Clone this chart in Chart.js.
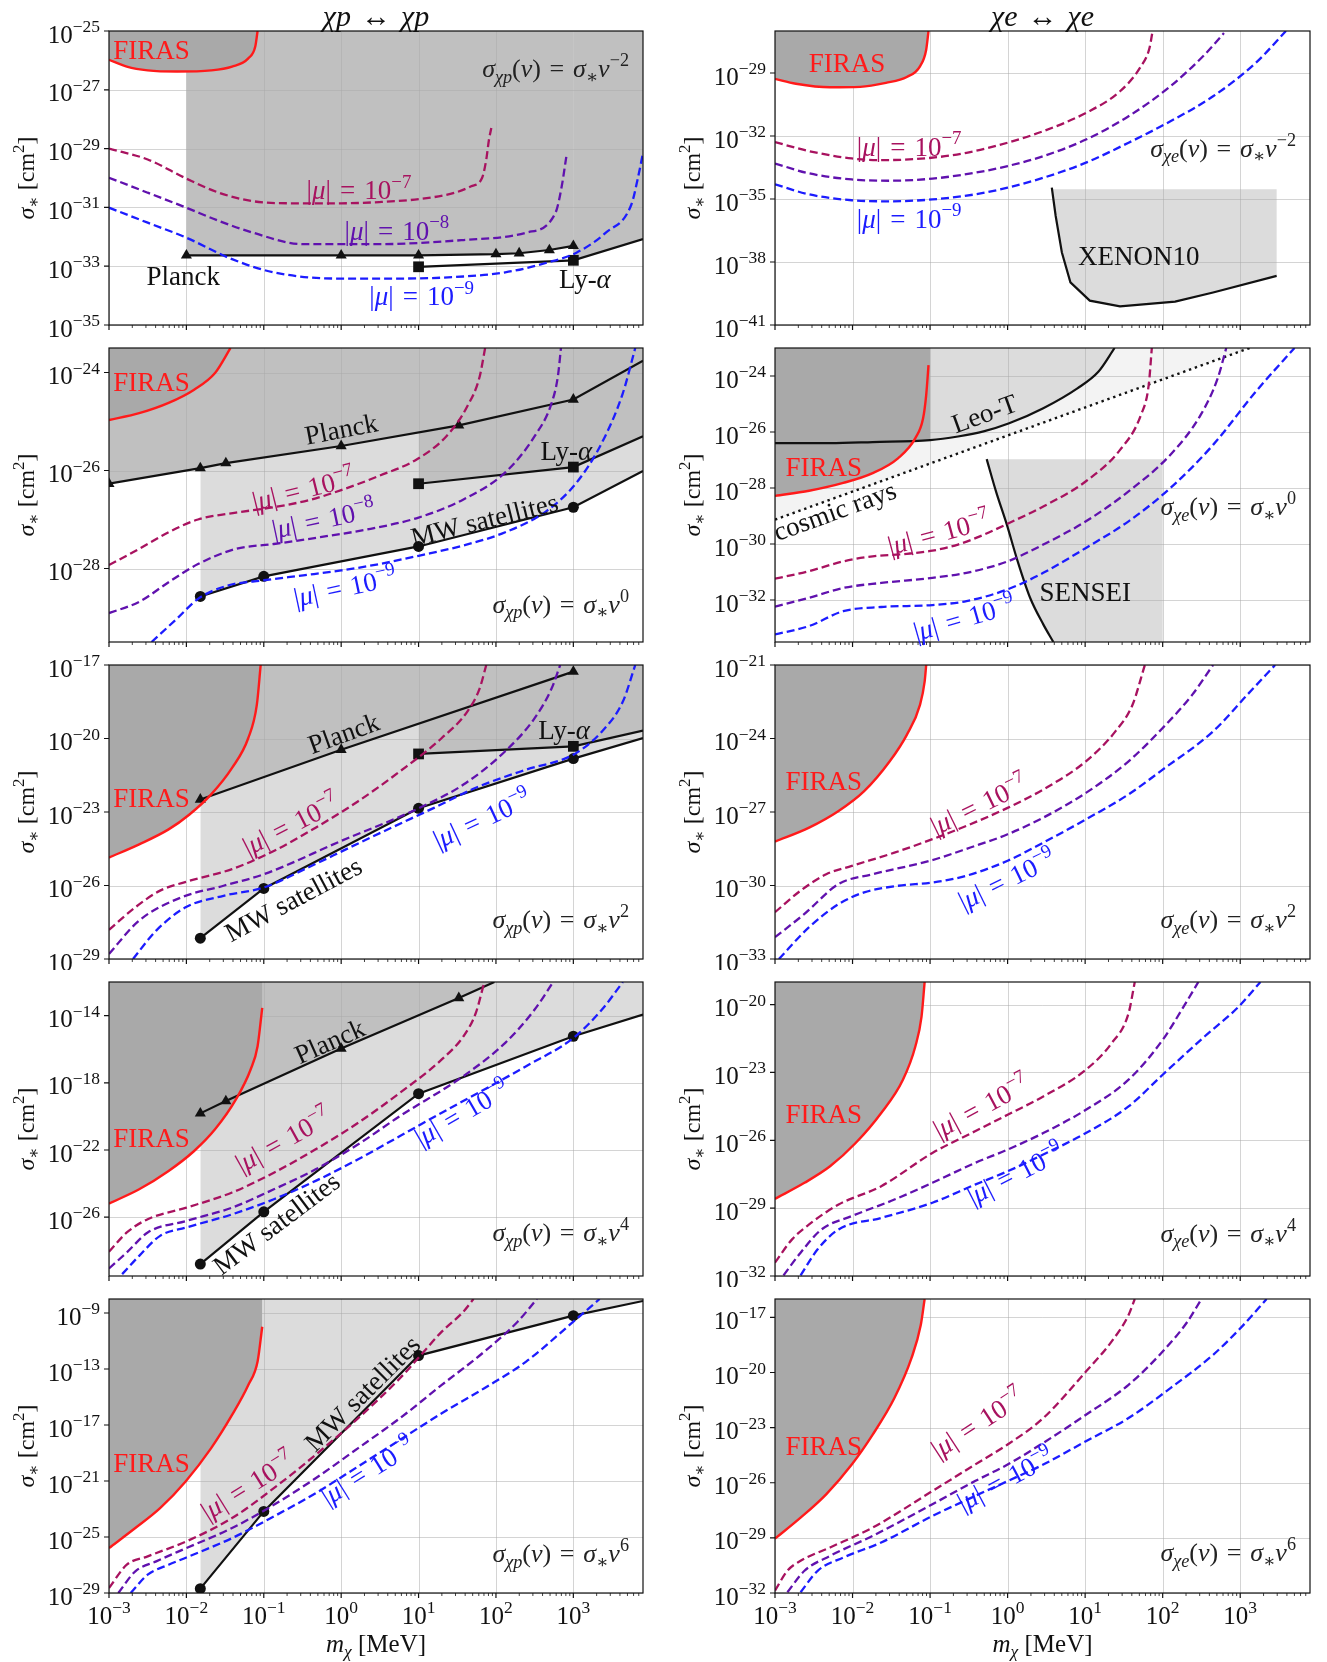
<!DOCTYPE html>
<html lang="en">
<head>
<meta charset="UTF-8">
<title>Millicharged DM bounds</title>
<style>
  body { margin: 0; background: #fff; }
  #fig { position: relative; width: 1327px; height: 1662px; }
  #fig canvas { position: absolute; }
</style>
</head>
<body>
<div id="fig"></div>
<script src="https://cdn.jsdelivr.net/npm/chart.js"></script>
<script>
// every pair below is [log10(m_chi / MeV), log10(sigma_* / cm^2)]
const xTicks = [-3, -2, -1, 0, 1, 2, 3];
const xMax = 3.9;

// ---- row 1: v^-2 ----
const p1Range = [-35, -25];
const p1Ticks = [-25, -27, -29, -31, -33, -35];
const p1Firas = [[-3, -25.98], [-2.77, -26.21], [-2.5, -26.34], [-2.12, -26.38], [-1.68, -26.34], [-1.41, -26.21], [-1.2, -25.93], [-1.11, -25.53], [-1.08, -25.0]];
const p1Planck = [[-2, -32.63], [0, -32.63], [1, -32.63], [2, -32.59], [2.3, -32.56], [2.69, -32.45], [3, -32.31]];
const p1Lya = [[1, -33.02], [3, -32.8]];
const p1LyaTail = [[3.9, -32.08]];
const p1Mu7 = [[-3, -29.0], [-2.5, -29.37], [-2, -30.02], [-1.58, -30.5], [-1.14, -30.79], [-0.6, -30.86], [0, -30.86], [0.49, -30.82], [1.03, -30.71], [1.47, -30.5], [1.68, -30.28], [1.82, -30.0], [1.875, -29.37], [1.91, -28.69], [1.94, -28.3]];
const p1Mu8 = [[-3, -29.99], [-2.5, -30.5], [-2, -31.01], [-1.58, -31.46], [-1.14, -31.86], [-0.49, -32.25], [0.49, -32.25], [1.58, -32.11], [2.39, -31.86], [2.77, -31.18], [2.85, -30.28], [2.91, -29.26]];
const p1Mu9 = [[-3, -31.01], [-2.5, -31.52], [-2, -32.03], [-1.41, -32.76], [-0.87, -33.21], [-0.05, -33.42], [0.76, -33.42], [1.58, -33.35], [2.12, -33.21], [2.66, -32.88], [3.04, -32.54], [3.42, -31.86], [3.75, -30.9], [3.83, -30.05], [3.9, -29.15]];

const p2Range = [-41, -27];
const p2Ticks = [-29, -32, -35, -38, -41];
const p2Firas = [[-3, -29.28], [-2.73, -29.51], [-2.29, -29.68], [-1.9, -29.66], [-1.57, -29.47], [-1.3, -29.19], [-1.13, -28.68], [-1.05, -27.89], [-1.02, -27.0]];
const p2Mu7 = [[-3, -32.29], [-2.56, -32.72], [-2.01, -33.07], [-1.63, -33.15], [-1.02, -33.05], [-0.53, -32.8], [0, -32.32], [0.46, -31.77], [1.01, -30.9], [1.45, -29.87], [1.72, -28.68], [1.83, -27.81], [1.87, -27.0]];
const p2Mu8 = [[-3, -33.31], [-2.56, -33.78], [-2.01, -34.07], [-1.52, -34.13], [-0.97, -34.03], [-0.42, -33.75], [0, -33.43], [0.46, -32.96], [1.01, -32.17], [1.56, -31.06], [2.1, -29.63], [2.54, -28.13], [2.79, -27.1]];
const p2Mu9 = [[-3, -34.3], [-2.56, -34.78], [-2.01, -35.06], [-1.52, -35.11], [-0.97, -35.02], [-0.42, -34.78], [0, -34.46], [0.46, -33.99], [1.01, -33.27], [1.56, -32.32], [2.1, -31.3], [2.65, -30.11], [3.2, -28.52], [3.59, -27.0]];
const p2Xenon = [[0.57, -34.46], [0.62, -35.81], [0.7, -37.55], [0.81, -38.97], [1.06, -39.84], [1.45, -40.11], [2.16, -39.89], [2.65, -39.45], [3.47, -38.66]];
const p2XenonEdge = [[3.47, -34.54], [0.57, -34.54]];

// ---- row 2: v^0 ----
const p3Range = [-29.5, -23.5];
const p3Ticks = [-24, -26, -28];
const p3Firas = [[-3, -24.97], [-2.61, -24.83], [-2.23, -24.62], [-1.9, -24.35], [-1.63, -24.01], [-1.43, -23.5]];
const p3Planck = [[-3, -26.27], [-1.82, -25.95], [-1.49, -25.85], [0, -25.5], [1.52, -25.08], [3, -24.55]];
const p3PlanckTail = [[3.9, -23.76]];
const p3Lya = [[1, -26.27], [3, -25.93]];
const p3LyaTail = [[3.9, -25.3]];
const p3Mw = [[-1.82, -28.57], [-1, -28.16], [1, -27.55], [3, -26.75]];
const p3MwTail = [[3.9, -26.01]];
const p3Mu7 = [[-3, -27.93], [-2.61, -27.6], [-2.23, -27.26], [-1.85, -27.0], [-1.36, -26.86], [-0.87, -26.75], [-0.38, -26.59], [0, -26.4], [0.49, -26.11], [0.98, -25.77], [1.36, -25.3], [1.63, -24.69], [1.79, -24.08], [1.86, -23.5]];
const p3Mu8 = [[-3, -28.91], [-2.61, -28.68], [-2.23, -28.28], [-1.85, -27.91], [-1.36, -27.6], [-0.87, -27.5], [-0.27, -27.36], [0.38, -27.19], [1, -26.96], [1.58, -26.59], [2.12, -26.04], [2.5, -25.3], [2.72, -24.62], [2.8, -24.08], [2.84, -23.5]];
const p3Mu9 = [[-2.45, -29.5], [-2.12, -29.02], [-1.85, -28.62], [-1.47, -28.35], [-1, -28.24], [-0.49, -28.14], [0, -28.04], [0.49, -27.91], [1, -27.74], [1.58, -27.53], [2.12, -27.26], [2.66, -26.82], [3.04, -26.25], [3.37, -25.43], [3.64, -24.42], [3.8, -23.5]];

const p4Range = [-33.5, -23];
const p4Ticks = [-24, -26, -28, -30, -32];
const p4Firas = [[-3, -28.28], [-2.56, -28.1], [-2.12, -27.82], [-1.74, -27.47], [-1.41, -26.93], [-1.19, -26.22], [-1.09, -25.51], [-1.05, -24.68], [-1.02, -23.61]];
const p4LeoT = [[-3, -26.4], [-2.29, -26.4], [-1.74, -26.36], [-1, -26.29], [-0.64, -26.16], [-0.31, -25.98], [0.02, -25.69], [0.46, -25.15], [0.9, -24.44], [1.17, -23.85], [1.38, -23.0]];
const p4Cosmic = [[-3, -29.13], [3.12, -23.0]];
const p4Sensei = [[-0.27, -26.97], [-0.15, -28.12], [-0.01, -29.31], [0.13, -30.62], [0.29, -31.92], [0.46, -32.87], [0.59, -33.5]];
const p4SenseiEdge = [[2.0, -33.5], [2.0, -26.97]];
const p4Mu7 = [[-3, -31.24], [-2.56, -30.97], [-2.12, -30.62], [-1.74, -30.44], [-1.3, -30.35], [-0.97, -30.24], [-0.64, -30.02], [-0.31, -29.67], [0.02, -29.25], [0.46, -28.66], [1.01, -27.76], [1.45, -26.64], [1.72, -25.39], [1.82, -24.32], [1.86, -23.0]];
const p4Mu8 = [[-3, -32.24], [-2.56, -31.92], [-2.12, -31.57], [-1.63, -31.39], [-0.97, -31.21], [-0.53, -31.03], [0, -30.62], [0.46, -30.02], [1.01, -29.19], [1.56, -28.12], [2.1, -26.81], [2.49, -25.39], [2.71, -24.08], [2.82, -23.0]];
const p4Mu9 = [[-3, -33.23], [-2.56, -32.93], [-2.12, -32.4], [-1.63, -32.25], [-0.97, -32.18], [-0.53, -32.04], [0, -31.62], [0.46, -31.03], [1.01, -30.14], [1.56, -29.19], [2.1, -28.0], [2.65, -26.46], [3.2, -24.56], [3.7, -23.0]];

// ---- row 3: v^2 ----
const p5Range = [-29, -17];
const p5Ticks = [-17, -20, -23, -26, -29];
const p5Firas = [[-3, -24.86], [-2.61, -24.32], [-2.23, -23.71], [-1.96, -23.1], [-1.68, -22.28], [-1.41, -21.2], [-1.2, -19.98], [-1.09, -18.63], [-1.04, -17.0]];
const p5Planck = [[-1.82, -22.49], [0, -20.46], [3, -17.27]];
const p5Lya = [[1, -20.63], [3, -20.32]];
const p5LyaTail = [[3.9, -19.68]];
const p5Mw = [[-1.82, -28.15], [-1, -26.12], [1, -22.85], [3, -20.82]];
const p5MwTail = [[3.9, -19.98]];
const p5Mu7 = [[-3, -27.81], [-2.66, -26.89], [-2.34, -26.21], [-1.96, -25.81], [-1.41, -25.33], [-0.87, -24.59], [-0.33, -23.64], [0.22, -22.56], [0.76, -21.34], [1.3, -19.98], [1.63, -18.9], [1.79, -17.95], [1.875, -17.0]];
const p5Mu8 = [[-3, -28.79], [-2.61, -27.43], [-2.07, -26.49], [-1.52, -26.01], [-1, -25.54], [0, -24.18], [1, -22.85], [1.58, -21.88], [2.12, -20.52], [2.5, -19.17], [2.72, -17.95], [2.83, -17.0]];
const p5Mu9 = [[-2.69, -29.0], [-2.39, -27.84], [-2.01, -26.89], [-1.52, -26.42], [-1, -26.08], [-0.43, -25.27], [0.11, -24.45], [0.65, -23.64], [1.2, -22.83], [1.74, -22.01], [2.39, -21.27], [3, -20.66], [3.37, -19.71], [3.64, -18.49], [3.8, -17.0]];

const p6Range = [-33, -21];
const p6Ticks = [-21, -24, -27, -30, -33];
const p6Firas = [[-3, -28.21], [-2.56, -27.64], [-2.18, -26.96], [-1.85, -26.15], [-1.52, -24.93], [-1.3, -23.85], [-1.13, -22.63], [-1.07, -21.68], [-1.05, -21.0]];
const p6Mu7 = [[-3, -31.09], [-2.67, -30.21], [-2.34, -29.54], [-2.01, -29.2], [-1.46, -28.66], [-0.97, -28.11], [-0.48, -27.5], [0, -26.83], [0.46, -26.08], [1.01, -24.93], [1.39, -23.71], [1.61, -22.63], [1.77, -21.0]];
const p6Mu8 = [[-3, -32.11], [-2.62, -31.16], [-2.18, -29.94], [-1.74, -29.54], [-1, -28.99], [-0.48, -28.45], [0, -27.91], [0.46, -27.23], [1.01, -26.22], [1.56, -24.93], [2, -23.57], [2.38, -22.22], [2.65, -21.0]];
const p6Mu9 = [[-2.95, -33.0], [-2.56, -31.7], [-2.18, -30.76], [-1.85, -30.28], [-1.41, -30.01], [-0.97, -29.88], [-0.53, -29.6], [0, -28.99], [0.46, -28.25], [1.01, -27.3], [1.56, -26.28], [2, -25.27], [2.65, -23.71], [3.09, -22.22], [3.45, -21.0]];

// ---- row 4: v^4 ----
const p7Range = [-29.5, -12];
const p7Ticks = [-14, -18, -22, -26];
const p7Firas = [[-3, -25.19], [-2.61, -24.34], [-2.23, -23.25], [-1.9, -22.06], [-1.63, -20.77], [-1.36, -18.99], [-1.17, -17.21], [-1.08, -15.82], [-1.02, -13.54]];
const p7Planck = [[-1.82, -19.82], [-1.49, -19.09], [0, -15.96], [1.52, -12.95]];
const p7PlanckTail = [[1.98, -12.0]];
const p7Mw = [[-1.82, -28.79], [-1, -25.68], [1, -18.65], [3, -15.23]];
const p7MwTail = [[3.9, -13.94]];
const p7Mu7 = [[-3, -28.06], [-2.77, -26.91], [-2.5, -26.12], [-2, -25.43], [-1.41, -24.53], [-0.87, -23.35], [-0.33, -21.96], [0.22, -20.38], [0.76, -18.59], [1.3, -16.61], [1.58, -15.23], [1.74, -13.84], [1.85, -12.0]];
const p7Mu8 = [[-3, -29.05], [-2.77, -28.1], [-2.5, -26.91], [-2, -26.22], [-1.41, -25.43], [-0.87, -24.34], [-0.33, -23.15], [0.22, -21.66], [0.76, -19.98], [1.58, -17.6], [2.12, -15.62], [2.5, -13.64], [2.74, -12.0]];
const p7Mu9 = [[-2.83, -29.39], [-2.61, -28.3], [-2.34, -27.11], [-2, -26.61], [-1.41, -25.83], [-0.87, -24.93], [-0.33, -23.84], [0.22, -22.55], [0.76, -21.17], [1.3, -19.78], [1.85, -18.4], [2.39, -17.01], [3, -15.33], [3.37, -13.64], [3.64, -12.0]];

const p8Range = [-32, -19];
const p8Ticks = [-20, -23, -26, -29, -32];
const p8Firas = [[-3, -28.59], [-2.62, -27.88], [-2.29, -27.15], [-1.96, -26.12], [-1.63, -24.79], [-1.35, -23.32], [-1.19, -21.85], [-1.11, -20.53], [-1.07, -19.0]];
const p8Mu7 = [[-3, -31.41], [-2.78, -30.38], [-2.56, -29.72], [-2.18, -28.84], [-1.63, -28.03], [-0.97, -26.56], [-0.42, -25.6], [0, -24.87], [0.46, -24.06], [1.01, -22.88], [1.34, -21.71], [1.56, -20.38], [1.64, -19.0]];
const p8Mu8 = [[-2.89, -31.97], [-2.67, -30.97], [-2.4, -29.94], [-2.01, -29.35], [-1.46, -28.62], [-0.97, -27.88], [-0.42, -27.0], [0, -26.41], [0.46, -25.68], [1.01, -24.65], [1.56, -23.32], [2, -21.56], [2.27, -20.09], [2.46, -19.0]];
const p8Mu9 = [[-2.67, -31.97], [-2.45, -30.82], [-2.18, -29.94], [-1.63, -29.43], [-0.97, -28.76], [-0.42, -27.96], [0, -27.37], [0.46, -26.63], [1.01, -25.68], [1.56, -24.5], [2, -23.1], [2.54, -21.41], [2.98, -20.09], [3.26, -19.0]];

// ---- row 5: v^6 ----
const p9Range = [-29, -8];
const p9Ticks = [-9, -13, -17, -21, -25, -29];
const p9Firas = [[-3, -25.79], [-2.66, -24.36], [-2.34, -22.94], [-2.01, -21.03], [-1.68, -18.65], [-1.41, -16.28], [-1.2, -14.14], [-1.08, -12.47], [-1.02, -9.98]];
const p9Mw = [[-1.82, -28.69], [-1, -23.17], [1, -12.04], [3, -9.19]];
const p9MwTail = [[3.9, -8.14]];
const p9Mu7 = [[-3, -28.64], [-2.77, -26.98], [-2.5, -26.38], [-2, -25.31], [-1.41, -23.65], [-0.87, -21.51], [-0.33, -19.13], [0.22, -16.51], [0.76, -13.66], [1.03, -12.0], [1.3, -10.33], [1.58, -8.9], [1.71, -8.0]];
const p9Mu8 = [[-2.88, -29.0], [-2.66, -27.45], [-2.39, -26.74], [-2, -25.79], [-1.41, -24.36], [-0.87, -22.7], [-0.33, -20.8], [0.22, -18.65], [0.76, -16.51], [1.3, -14.14], [1.85, -11.76], [2.28, -9.62], [2.53, -8.0]];
const p9Mu9 = [[-2.72, -29.0], [-2.5, -27.69], [-2.23, -26.98], [-2, -26.46], [-1.41, -25.08], [-0.87, -23.53], [-0.33, -21.87], [0.22, -19.96], [0.76, -18.06], [1.3, -16.16], [1.85, -14.37], [2.39, -12.47], [3, -9.62], [3.34, -8.0]];

const p10Range = [-32, -16];
const p10Ticks = [-17, -20, -23, -26, -29, -32];
const p10Firas = [[-3, -29.04], [-2.67, -27.9], [-2.34, -26.63], [-2.01, -25.01], [-1.74, -23.38], [-1.46, -21.39], [-1.24, -19.22], [-1.12, -17.42], [-1.07, -16.0]];
const p10Mu7 = [[-3, -31.87], [-2.84, -30.79], [-2.67, -30.25], [-2.29, -29.52], [-1.74, -28.44], [-0.97, -26.45], [-0.42, -25.01], [0, -23.92], [0.46, -22.48], [1.01, -19.95], [1.34, -18.32], [1.56, -16.87], [1.64, -16.0]];
const p10Mu8 = [[-2.84, -31.96], [-2.62, -30.79], [-2.29, -29.98], [-1.74, -28.89], [-0.97, -27.17], [-0.42, -25.91], [0, -25.01], [0.46, -23.83], [1.01, -22.3], [1.56, -20.67], [2, -18.86], [2.32, -17.23], [2.5, -16.0]];
const p10Mu9 = [[-2.67, -31.96], [-2.45, -30.79], [-2.12, -30.07], [-1.63, -29.25], [-0.97, -27.81], [-0.42, -26.72], [0, -25.91], [0.46, -25.01], [1.01, -23.74], [1.56, -22.48], [2.1, -20.85], [2.65, -19.04], [3.04, -17.42], [3.34, -16.0]];

// ---- styling ----
const C7 = '#a8125f', C8 = '#6011ae', C9 = '#1c1cff', RED = '#ff1a1a', INK = '#111';
const DARK = '#a9a9a9', MID = '#c0c0c0', LIGHT = '#dcdcdc', PALE = '#f3f3f3';
const SERIF = '"Liberation Serif", "DejaVu Serif", serif';
const MARK = {triangle: 6.4, rect: 7.6, circle: 5.5};
const SP = '\u2004'; // three-per-em space, closer to the math spacing round "="

const pts = a => a.map(([lx, ly]) => ({x: 10 ** lx, y: 10 ** ly}));
const dash = (a, c) => ({data: pts(a), borderColor: c, borderWidth: 2.3, borderDash: [8, 4], cubicInterpolationMode: 'monotone', pointRadius: 0, fill: false});
const firas = a => ({data: pts(a), borderColor: RED, borderWidth: 2.4, cubicInterpolationMode: 'monotone', pointRadius: 0, fill: 'end', backgroundColor: DARK});
const solid = (a, extra) => Object.assign({data: pts(a), borderColor: INK, borderWidth: 2.2, pointRadius: 0, fill: false}, extra);
const area = (a, c, mode, extra) => Object.assign({data: pts(a), borderWidth: 0, borderColor: 'transparent', pointRadius: 0, fill: mode, backgroundColor: c}, extra);
function bound(marks, tail, style, fillColor) {
  const n = marks.length;
  return {
    data: pts(marks.concat(tail || [])), borderColor: INK, borderWidth: 2.2,
    pointStyle: style, pointRadius: c => (c.dataIndex < n ? MARK[style] : 0),
    pointBackgroundColor: INK, pointBorderColor: INK, pointBorderWidth: 0,
    fill: fillColor ? 'end' : false, backgroundColor: fillColor || 'transparent'
  };
}
const mus = (a, b, c) => [dash(a, C7), dash(b, C8), dash(c, C9)];

// ---- text helpers ----
function rich(ctx, parts, x, y, o) {
  const size = o.size || 25;
  const items = parts.map(([t, f = '']) => {
    const small = f.includes('^') || f.includes('_');
    const s = small ? size * 0.7 : size;
    const font = (f.includes('i') ? 'italic ' : '') + s.toFixed(1) + 'px ' + SERIF;
    ctx.font = font;
    return {t, font, w: ctx.measureText(t).width, dy: f.includes('^') ? -size * 0.42 : f.includes('_') ? size * 0.22 : 0};
  });
  const total = items.reduce((s, it) => s + it.w, 0);
  ctx.save();
  ctx.translate(x, y);
  ctx.rotate(-(o.angle || 0) * Math.PI / 180);
  ctx.fillStyle = o.color || INK;
  ctx.textAlign = 'left';
  ctx.textBaseline = 'alphabetic';
  let cx = o.align === 'right' ? -total : o.align === 'left' ? 0 : -total / 2;
  items.forEach(it => { ctx.font = it.font; ctx.fillText(it.t, cx, size * 0.34 + it.dy); cx += it.w; });
  ctx.restore();
}
const T = s => [[s]];
const MU = n => [['|'], ['μ', 'i'], ['|' + SP + '=' + SP + '10'], ['−' + n, '^']];
const LYA = [['Ly-'], ['α', 'i']];
const TEN = e => [['10'], [(e < 0 ? '−' : '') + Math.abs(e), '^']];
const FORM = (chi, pw) => [['σ', 'i'], [chi, 'i_'], ['('], ['v', 'i'], [')' + SP + '=' + SP], ['σ', 'i'], ['∗', '_'], ['v', 'i'], [pw, '^']];
const YLAB = [['σ', 'i'], ['∗', '_'], [' [cm'], ['2', '^'], [']']];
const XLAB = [['m', 'i'], ['χ', 'i_'], [' [MeV]']];

// ---- layout ----
const rows = [
  {top: 0, h: 337, pt: 31, pb: 12, pw: '−2'},
  {top: 337, h: 317, pt: 11, pb: 12, pw: '0'},
  {top: 654, h: 316, pt: 11, pb: 11, pw: '2'},
  {top: 970, h: 317, pt: 12, pb: 11, pw: '4'},
  {top: 1287, h: 375, pt: 12, pb: 69, pw: '6'}
];
const cols = [
  {left: 0, w: 663, pl: 109, pr: 20, ylab: 26, chi: 'χp'},
  {left: 663, w: 664, pl: 112, pr: 17, ylab: 29, chi: 'χe'}
];

const panels = [
  {row: 0, col: 0, range: p1Range, ticks: p1Ticks, formY: -26.27,
    sets: [...mus(p1Mu7, p1Mu8, p1Mu9), firas(p1Firas), bound(p1Planck, null, 'triangle', MID),
      bound(p1Lya, p1LyaTail, 'rect', null), area(p1Lya.slice(-1).concat(p1LyaTail), MID, 'end')],
    notes: [[T('FIRAS'), -2.45, -25.64, 0, RED], [T('Planck'), -2.04, -33.33, 0, INK], [LYA, 3.15, -33.42, 0, INK],
      [MU(7), 0.23, -30.4, 0, C7], [MU(8), 0.72, -31.78, 0, C8], [MU(9), 1.04, -34.02, 0, C9]]},
  {row: 0, col: 1, range: p2Range, ticks: p2Ticks, formY: -32.56,
    sets: [...mus(p2Mu7, p2Mu8, p2Mu9), firas(p2Firas), solid(p2Xenon), area(p2Xenon.concat(p2XenonEdge), LIGHT, 'shape')],
    notes: [[T('FIRAS'), -2.07, -28.53, 0, RED], [MU(7), -1.27, -32.5, 0, C7], [MU(9), -1.27, -35.92, 0, C9],
      [T('XENON10'), 1.69, -37.71, 0, INK]]},
  {row: 1, col: 0, range: p3Range, ticks: p3Ticks, formY: -28.72,
    sets: [...mus(p3Mu7, p3Mu8, p3Mu9), firas(p3Firas), bound(p3Planck, p3PlanckTail, 'triangle', MID),
      bound(p3Lya, p3LyaTail, 'rect', MID), bound(p3Mw, p3MwTail, 'circle', LIGHT)],
    notes: [[T('FIRAS'), -2.45, -24.18, 0, RED], [T('Planck'), 0, -25.15, 11, INK], [LYA, 2.91, -25.6, 0, INK],
      [T('MW satellites'), 1.85, -27.0, 14, INK], [MU(7), -0.49, -26.38, 14, C7], [MU(8), -0.23, -26.99, 12, C8],
      [MU(9), 0.05, -28.38, 12, C9]]},
  {row: 1, col: 1, range: p4Range, ticks: p4Ticks, formY: -28.66,
    sets: [...mus(p4Mu7, p4Mu8, p4Mu9), firas(p4Firas), solid(p4LeoT, {cubicInterpolationMode: 'monotone'}),
      solid(p4Cosmic, {borderDash: [2.4, 3.8], borderWidth: 2.4}), solid(p4Sensei, {cubicInterpolationMode: 'monotone'}),
      area(p4LeoT.slice(0, 4), DARK, 'end', {cubicInterpolationMode: 'monotone'}),
      area(p4Sensei.concat(p4SenseiEdge), LIGHT, 'shape'),
      area(p4LeoT, LIGHT, 'end', {cubicInterpolationMode: 'monotone'}), area(p4Cosmic, PALE, 'end')],
    notes: [[T('FIRAS'), -2.37, -27.23, 0, RED], [T('Leo-T'), -0.3, -25.33, 20, INK], [T('cosmic rays'), -2.23, -28.81, 20, INK],
      [T('SENSEI'), 1.0, -31.72, 0, INK], [MU(7), -0.89, -29.6, 15, C7], [MU(9), -0.56, -32.64, 16, C9]]},
  {row: 2, col: 0, range: p5Range, ticks: p5Ticks, formY: -27.37,
    sets: [...mus(p5Mu7, p5Mu8, p5Mu9), firas(p5Firas), bound(p5Planck, null, 'triangle', MID),
      bound(p5Lya, p5LyaTail, 'rect', MID), bound(p5Mw, p5MwTail, 'circle', LIGHT)],
    notes: [[T('FIRAS'), -2.45, -22.42, 0, RED], [T('Planck'), 0.03, -19.78, 20, INK], [LYA, 2.88, -19.64, 0, INK],
      [T('MW satellites'), -0.62, -26.55, 28, INK], [MU(7), -0.65, -23.5, 27, C7], [MU(9), 1.82, -23.28, 25, C9]]},
  {row: 2, col: 1, range: p6Range, ticks: p6Ticks, formY: -31.37,
    sets: [...mus(p6Mu7, p6Mu8, p6Mu9), firas(p6Firas)],
    notes: [[T('FIRAS'), -2.37, -25.74, 0, RED], [MU(7), -0.37, -26.7, 26, C7], [MU(9), -0.01, -29.75, 26, C9]]},
  {row: 3, col: 0, range: p7Range, ticks: p7Ticks, formY: -26.91,
    sets: [...mus(p7Mu7, p7Mu8, p7Mu9), firas(p7Firas), bound(p7Planck, p7PlanckTail, 'triangle', MID),
      bound(p7Mw, p7MwTail, 'circle', LIGHT)],
    notes: [[T('FIRAS'), -2.45, -21.27, 0, RED], [T('Planck'), -0.15, -15.52, 24, INK],
      [T('MW satellites'), -0.84, -26.36, 37, INK], [MU(7), -0.75, -21.4, 29, C7], [MU(9), 1.56, -19.8, 30, C9]]},
  {row: 3, col: 1, range: p8Range, ticks: p8Ticks, formY: -30.09,
    sets: [...mus(p8Mu7, p8Mu8, p8Mu9), firas(p8Firas)],
    notes: [[T('FIRAS'), -2.37, -24.82, 0, RED], [MU(7), -0.34, -24.5, 28, C7], [MU(9), 0.1, -27.47, 27, C9]]},
  {row: 4, col: 0, range: p9Range, ticks: p9Ticks, formY: -26.15,
    sets: [...mus(p9Mu7, p9Mu8, p9Mu9), firas(p9Firas), bound(p9Mw, p9MwTail, 'circle', LIGHT)],
    notes: [[T('FIRAS'), -2.45, -19.73, 0, RED], [T('MW satellites'), 0.27, -14.73, 45, INK],
      [MU(7), -1.21, -21.33, 32, C7], [MU(9), 0.34, -20.27, 32, C9]]},
  {row: 4, col: 1, range: p10Range, ticks: p10Ticks, formY: -29.8,
    sets: [...mus(p10Mu7, p10Mu8, p10Mu9), firas(p10Firas)],
    notes: [[T('FIRAS'), -2.37, -23.98, 0, RED], [MU(7), -0.39, -22.75, 33, C7], [MU(9), -0.03, -25.8, 28, C9]]}
];

function axesPlugin(p, row, col) {
  return {
    id: 'axes',
    beforeDatasetsDraw(chart) {
      // grid sits above the shaded regions, below the curves
      const {ctx, chartArea: a, scales: {x, y}} = chart;
      ctx.save();
      ctx.strokeStyle = 'rgba(170,170,170,0.5)';
      ctx.lineWidth = 1;
      ctx.beginPath();
      xTicks.forEach(t => { const px = Math.round(x.getPixelForValue(10 ** t)) + 0.5; ctx.moveTo(px, a.top); ctx.lineTo(px, a.bottom); });
      p.ticks.forEach(t => { const py = Math.round(y.getPixelForValue(10 ** t)) + 0.5; ctx.moveTo(a.left, py); ctx.lineTo(a.right, py); });
      ctx.stroke();
      ctx.restore();
    },
    afterDraw(chart) {
      const {ctx, chartArea: a, scales: {x, y}} = chart;
      ctx.save();
      ctx.strokeStyle = INK;
      ctx.lineWidth = 1.2;
      ctx.strokeRect(a.left, a.top, a.right - a.left, a.bottom - a.top);
      ctx.beginPath();
      xTicks.forEach(t => {
        const px = x.getPixelForValue(10 ** t);
        ctx.moveTo(px, a.bottom); ctx.lineTo(px, a.bottom + 5);
      });
      ctx.stroke();
      ctx.lineWidth = 0.8;
      ctx.beginPath();
      xTicks.forEach(t => {
        for (let m = 2; m <= 9; m++) {
          const v = 10 ** t * m;
          if (Math.log10(v) > xMax) break;
          const px = x.getPixelForValue(v);
          ctx.moveTo(px, a.bottom); ctx.lineTo(px, a.bottom + 3);
        }
      });
      ctx.stroke();
      ctx.lineWidth = 1.2;
      ctx.beginPath();
      p.ticks.forEach(t => {
        const py = y.getPixelForValue(10 ** t);
        ctx.moveTo(a.left, py); ctx.lineTo(a.left - 5, py);
      });
      ctx.stroke();
      ctx.restore();

      p.ticks.forEach(t => rich(ctx, TEN(t), a.left - 9, y.getPixelForValue(10 ** t) + 3, {size: 25, align: 'right'}));
      rich(ctx, YLAB, col.ylab, (a.top + a.bottom) / 2, {size: 24, angle: 90});
      if (p.row === 0) {
        rich(ctx, [[col.chi, 'i'], [SP + '↔' + SP], [col.chi, 'i']], (a.left + a.right) / 2, 16, {size: 30});
      }
      if (p.row === 4) {
        xTicks.forEach(t => rich(ctx, TEN(t), x.getPixelForValue(10 ** t), a.bottom + 22, {size: 25}));
        rich(ctx, XLAB, (a.left + a.right) / 2, a.bottom + 50, {size: 25});
      }
      rich(ctx, FORM(col.chi, row.pw), a.right - 14, y.getPixelForValue(10 ** p.formY), {size: 26, align: 'right', color: '#222'});
      p.notes.forEach(([parts, lx, ly, ang, color]) =>
        rich(ctx, parts, x.getPixelForValue(10 ** lx), y.getPixelForValue(10 ** ly), {size: 27, angle: ang, color}));
    }
  };
}

const fig = document.getElementById('fig');
panels.forEach(p => {
  const row = rows[p.row], col = cols[p.col];
  const canvas = document.createElement('canvas');
  canvas.width = col.w;
  canvas.height = row.h;
  canvas.style.left = col.left + 'px';
  canvas.style.top = row.top + 'px';
  fig.appendChild(canvas);
  new Chart(canvas, {
    type: 'line',
    data: {datasets: p.sets},
    options: {
      responsive: false,
      animation: false,
      events: [],
      layout: {padding: {left: col.pl, right: col.pr, top: row.pt, bottom: row.pb}},
      elements: {line: {tension: 0}},
      scales: {
        x: {type: 'logarithmic', min: 10 ** -3, max: 10 ** xMax, bounds: 'data', display: false},
        y: {type: 'logarithmic', min: 10 ** p.range[0], max: 10 ** p.range[1], bounds: 'data', display: false}
      },
      plugins: {legend: {display: false}, tooltip: {enabled: false}, filler: {drawTime: 'beforeDatasetsDraw'}}
    },
    plugins: [axesPlugin(p, row, col)]
  });
});
</script>
</body>
</html>
